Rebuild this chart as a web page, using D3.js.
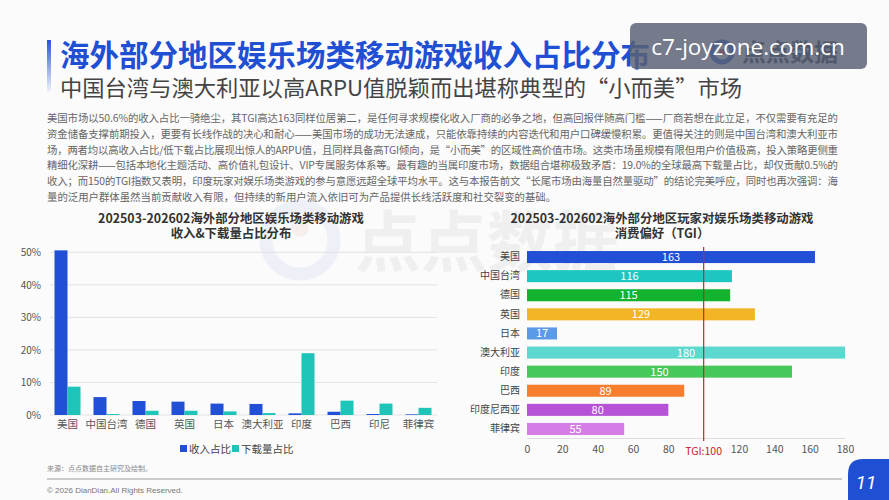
<!DOCTYPE html>
<html>
<head>
<meta charset="utf-8">
<script src="https://cdn.jsdelivr.net/npm/d3@7/dist/d3.min.js"></script>
<style>
  html, body { margin: 0; padding: 0; background: #fbfbfb; }
  svg { display: block; font-family: "Noto Sans CJK SC", "Noto Sans", sans-serif; }
</style>
</head>
<body>
<div id="chart"></div>
<script>
//Datos
const leftCats = ['美国', '中国台湾', '德国', '英国', '日本', '澳大利亚', '印度', '巴西', '印尼', '菲律宾'];
const revenueShare = [50.6, 5.5, 4.3, 4.1, 3.5, 3.4, 0.5, 1.0, 0.3, 0.2];
const downloadShare = [8.7, 0.3, 1.3, 1.3, 1.1, 0.6, 19.0, 4.4, 3.5, 2.2];
const leftTicks = [0, 10, 20, 30, 40, 50];
const seriesNames = ['收入占比', '下载量占比'];

const rightCats = ['美国', '中国台湾', '德国', '英国', '日本', '澳大利亚', '印度', '巴西', '印度尼西亚', '菲律宾'];
const tgiValues = [163, 116, 115, 129, 17, 180, 150, 89, 80, 55];
const rightTicks = [0, 20, 40, 60, 80, 120, 140, 160, 180];
const tgiRef = 100;

const paragraph = [
  '美国市场以50.6%的收入占比一骑绝尘，其TGI高达163同样位居第二，是任何寻求规模化收入厂商的必争之地，但高回报伴随高门槛——厂商若想在此立足，不仅需要有充足的',
  '资金储备支撑前期投入，更要有长线作战的决心和耐心——美国市场的成功无法速成，只能依靠持续的内容迭代和用户口碑缓慢积累。更值得关注的则是中国台湾和澳大利亚市',
  '场，两者均以高收入占比/低下载占比展现出惊人的ARPU值，且同样具备高TGI倾向，是“小而美”的区域性高价值市场。这类市场虽规模有限但用户价值极高，投入策略更侧重',
  '精细化深耕——包括本地化主题活动、高价值礼包设计、VIP专属服务体系等。最有趣的当属印度市场，数据组合堪称极致矛盾：19.0%的全球最高下载量占比，却仅贡献0.5%的',
  '收入；而150的TGI指数又表明，印度玩家对娱乐场类游戏的参与意愿远超全球平均水平。这与本报告前文“长尾市场由海量自然量驱动”的结论完美呼应，同时也再次强调：海',
  '量的泛用户群体虽然当前贡献收入有限，但持续的新用户流入依旧可为产品提供长线活跃度和社交裂变的基础。'
];

//Colores
const COLOR_BLUE = '#2150d6',
  COLOR_TEAL = '#1fc4b9';
const tgiColors = ['#2150d6', '#1ec6c2', '#13b22f', '#f2b526', '#5b9ae6', '#5cd8cf', '#47c85a', '#f57f2c', '#b552d6', '#d57ce6'];

const width = 889, height = 500;
const svg = d3.select('#chart').append('svg')
  .attr('width', width)
  .attr('height', height);

svg.append('rect').attr('width', width).attr('height', height).attr('fill', '#fbfbfb');

//Marca de agua de fondo
const wm = svg.append('g').attr('opacity', 0.45);
wm.append('circle').attr('cx', 300).attr('cy', 240).attr('r', 34)
  .attr('fill', 'none').attr('stroke', '#dde5f3').attr('stroke-width', 13);
wm.append('circle').attr('cx', 300).attr('cy', 228).attr('r', 9).attr('fill', '#f3e1d9');
wm.append('text').attr('x', 355).attr('y', 266)
  .attr('font-size', 66).attr('font-weight', 700).attr('fill', '#e2e2e2')
  .text('点点数据');

//Título
const grad = svg.append('defs').append('linearGradient')
  .attr('id', 'barGrad').attr('x1', 0).attr('y1', 0).attr('x2', 0).attr('y2', 1);
grad.append('stop').attr('offset', '0%').attr('stop-color', '#2a55d8');
grad.append('stop').attr('offset', '100%').attr('stop-color', '#2a55d8').attr('stop-opacity', 0.05);
svg.append('rect').attr('x', 47).attr('y', 40).attr('width', 4).attr('height', 52).attr('fill', 'url(#barGrad)');

svg.append('text').attr('x', 60).attr('y', 66)
  .attr('font-size', 29.5).attr('font-weight', 700).attr('fill', '#1f4fd3')
  .text('海外部分地区娱乐场类移动游戏收入占比分布');
svg.append('text').attr('x', 60).attr('y', 96)
  .attr('font-size', 22).attr('fill', '#444')
  .attr('textLength', 682).attr('lengthAdjust', 'spacingAndGlyphs')
  .text('中国台湾与澳大利亚以高ARPU值脱颖而出堪称典型的“小而美”市场');

//Logo
svg.append('circle').attr('cx', 722).attr('cy', 52).attr('r', 10)
  .attr('fill', 'none').attr('stroke', '#2150d6').attr('stroke-width', 5);
svg.append('circle').attr('cx', 722).attr('cy', 52).attr('r', 3).attr('fill', '#d8343a');
svg.append('text').attr('x', 742).attr('y', 61)
  .attr('font-size', 24).attr('font-weight', 700).attr('fill', '#1b2740')
  .text('点点数据');

//Sello superpuesto
svg.append('rect').attr('x', 630).attr('y', 23).attr('width', 237).attr('height', 46).attr('rx', 6)
  .attr('fill', '#5b6275').attr('opacity', 0.84);
svg.append('text').attr('x', 748).attr('y', 55).attr('text-anchor', 'middle')
  .attr('font-family', 'Open Sans, sans-serif')
  .attr('font-size', 22.5).attr('fill', '#fff')
  .text('c7-joyzone.com.cn');

//Párrafo
svg.append('g').selectAll('text')
  .data(paragraph)
  .enter()
  .append('text')
  .attr('x', 47)
  .attr('y', function(d, i) { return 122 + i * 15.8; })
  .attr('font-size', 10.4)
  .attr('fill', '#666')
  .attr('textLength', function(d, i) { return i < paragraph.length - 1 ? 791 : null; })
  .attr('lengthAdjust', 'spacing')
  .text(function(d) { return d; });

/////
// Gráfico izquierdo
/////
const leftTitle = svg.append('g').attr('font-size', 12.4).attr('font-weight', 700).attr('fill', '#333').attr('text-anchor', 'middle');
leftTitle.append('text').attr('x', 231).attr('y', 223).text('202503-202602海外部分地区娱乐场类移动游戏');
leftTitle.append('text').attr('x', 231).attr('y', 238).text('收入&下载量占比分布');

const xLeft = d3.scaleBand().domain(leftCats).range([48, 438]).paddingInner(1 / 3).paddingOuter(1 / 6);
const xSub = d3.scaleBand().domain([0, 1]).range([0, xLeft.bandwidth()]);
const yLeft = d3.scaleLinear().domain([0, 50]).range([415, 252.3]);

const gl = svg.append('g');
gl.selectAll('.grid').data(leftTicks).enter().append('line')
  .attr('x1', 50).attr('x2', 437)
  .attr('y1', function(d) { return yLeft(d); })
  .attr('y2', function(d) { return yLeft(d); })
  .attr('stroke', '#e3e3e3').attr('stroke-width', 1);

const yAxisLeft = d3.axisLeft(yLeft).tickValues(leftTicks).tickSize(0).tickPadding(0)
  .tickFormat(function(d) { return d + '%'; });
gl.append('g').attr('transform', 'translate(41,0)').call(yAxisLeft)
  .call(function(g) { g.select('.domain').remove(); })
  .selectAll('text').attr('font-size', 10).attr('fill', '#555')
  .attr('font-family', 'Noto Sans CJK SC, sans-serif');

const leftRows = leftCats.map(function(c, i) { return { cat: c, vals: [revenueShare[i], downloadShare[i]] }; });
const groups = gl.selectAll('.grp').data(leftRows).enter().append('g')
  .attr('transform', function(d) { return 'translate(' + xLeft(d.cat) + ',0)'; });
groups.selectAll('rect').data(function(d) { return d.vals; }).enter().append('rect')
  .attr('x', function(d, i) { return xSub(i); })
  .attr('width', xSub.bandwidth())
  .attr('y', function(d) { return yLeft(d); })
  .attr('height', function(d) { return yLeft(0) - yLeft(d); })
  .attr('fill', function(d, i) { return i == 0 ? COLOR_BLUE : COLOR_TEAL; });

const xAxisLeft = d3.axisBottom(xLeft).tickSize(0).tickPadding(0);
gl.append('g').attr('transform', 'translate(0,421)').call(xAxisLeft)
  .call(function(g) { g.select('.domain').remove(); })
  .selectAll('text').attr('font-size', 10.5).attr('fill', '#555')
  .attr('font-family', 'Noto Sans CJK SC, sans-serif');

//Leyenda
const legend = gl.append('g');
const legendX = [180, 232];
seriesNames.forEach(function(name, i) {
  legend.append('rect').attr('x', legendX[i]).attr('y', 445).attr('width', 7).attr('height', 7)
    .attr('fill', i == 0 ? COLOR_BLUE : COLOR_TEAL);
  legend.append('text').attr('x', legendX[i] + 9).attr('y', 452.5)
    .attr('font-size', 10.5).attr('fill', '#444').text(name);
});

/////
// Gráfico derecho
/////
const rightTitle = svg.append('g').attr('font-size', 12.4).attr('font-weight', 700).attr('fill', '#333').attr('text-anchor', 'middle');
rightTitle.append('text').attr('x', 662).attr('y', 223).text('202503-202602海外部分地区玩家对娱乐场类移动游戏');
rightTitle.append('text').attr('x', 662).attr('y', 238).text('消费偏好（TGI）');

const xRight = d3.scaleLinear().domain([0, 180]).range([527, 845]);
const yRight = d3.scaleBand().domain(rightCats).range([247.5, 438.5]).paddingInner(0.37).paddingOuter(0.185);

const gr = svg.append('g');
gr.append('line').attr('x1', xRight(0)).attr('x2', xRight(180)).attr('y1', 438.5).attr('y2', 438.5)
  .attr('stroke', '#dddddd');

gr.selectAll('.bar').data(tgiValues).enter().append('rect')
  .attr('x', xRight(0))
  .attr('y', function(d, i) { return yRight(rightCats[i]); })
  .attr('height', yRight.bandwidth())
  .attr('width', function(d) { return xRight(d) - xRight(0); })
  .attr('fill', function(d, i) { return tgiColors[i]; });

gr.selectAll('.val').data(tgiValues).enter().append('text')
  .attr('x', function(d) { return xRight(d / 2); })
  .attr('y', function(d, i) { return yRight(rightCats[i]) + yRight.bandwidth() / 2 + 4; })
  .attr('text-anchor', 'middle')
  .attr('font-size', 11).attr('fill', '#fff')
  .text(function(d) { return d; });

const yAxisRight = d3.axisLeft(yRight).tickSize(0).tickPadding(0);
gr.append('g').attr('transform', 'translate(520,0)').call(yAxisRight)
  .call(function(g) { g.select('.domain').remove(); })
  .selectAll('text').attr('font-size', 10).attr('fill', '#444')
  .attr('font-family', 'Noto Sans CJK SC, sans-serif');

const xAxisRight = d3.axisBottom(xRight).tickValues(rightTicks).tickSize(0).tickPadding(0);
gr.append('g').attr('transform', 'translate(0,446)').call(xAxisRight)
  .call(function(g) { g.select('.domain').remove(); })
  .selectAll('text').attr('font-size', 10.5).attr('fill', '#555')
  .attr('font-family', 'Noto Sans CJK SC, sans-serif');

//Línea TGI
gr.append('line').attr('x1', xRight(tgiRef)).attr('x2', xRight(tgiRef))
  .attr('y1', 247).attr('y2', 441)
  .attr('stroke', '#d4202c').attr('stroke-width', 1.2);
gr.append('text').attr('x', xRight(tgiRef)).attr('y', 455)
  .attr('text-anchor', 'middle').attr('font-size', 10.5).attr('fill', '#c8202c')
  .text('TGI:' + tgiRef);

//Pie de página
svg.append('text').attr('x', 47).attr('y', 471).attr('font-size', 7).attr('fill', '#888')
  .text('来源：点点数据自主研究及绘制。');
svg.append('line').attr('x1', 47).attr('x2', 842).attr('y1', 479).attr('y2', 479)
  .attr('stroke', '#bbbbbb').attr('stroke-width', 1.5);
svg.append('text').attr('x', 47).attr('y', 493).attr('font-size', 8).attr('fill', '#777')
  .attr('font-family', 'Liberation Sans, sans-serif')
  .text('© 2026 DianDian.All Rights Reserved.');

svg.append('path')
  .attr('d', 'M848,500 L848,474 Q848,459 863,459 L889,459 L889,500 Z')
  .attr('fill', '#1f4fd3');
svg.append('text').attr('x', 866).attr('y', 489).attr('text-anchor', 'middle')
  .attr('font-size', 19).attr('font-style', 'italic').attr('fill', '#fff')
  .attr('font-family', 'Roboto, sans-serif')
  .text('11');
</script>
</body>
</html>
